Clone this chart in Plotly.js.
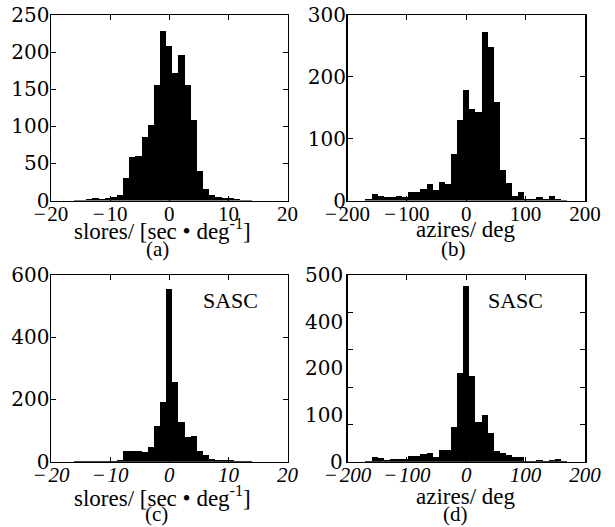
<!DOCTYPE html>
<html><head><meta charset="utf-8">
<script src="https://cdn.plot.ly/plotly-3.0.1.min.js"></script>
<style>body{margin:0;background:#fff}#chart{width:615px;height:527px}</style>
</head><body><div id="chart"></div>
<script>
// slowness residual histogram bin centres (sec/deg)
const sloCenters = [-15.60,-14.56,-13.52,-12.48,-11.44,-10.40,-9.36,-8.32,-7.28,-6.24,-5.20,-4.16,-3.12,-2.08,-1.04,0,1.04,2.08,3.12,4.16,5.20,6.24,7.28,8.32,9.36,10.40,11.44,12.48,13.52];
const sloWidth = 1.04;
const sloCountsA = [1,1,2,3,2,3,5,8,31,58,60,86,102,155,228,208,172,196,156,108,40,15,7,5,3,4,2,1,1];
const sloCountsC = [2,3,2,1,1,2,3,5,35,34,33,31,46,115,193,555,255,128,80,82,35,20,8,6,4,6,3,1,1];
// azimuth residual histogram bin centres (deg)
const aziCenters = [-174.86,-164.57,-154.29,-144.00,-133.71,-123.43,-113.14,-102.86,-92.57,-82.29,-72.00,-61.71,-51.43,-41.14,-30.86,-20.57,-10.29,0,10.29,20.57,30.86,41.14,51.43,61.71,72.00,82.29,92.57,102.86,113.14,123.43,133.71,144.00,154.29,164.57,174.86];
const aziWidth = 10.286;
const aziCountsB = [0,2,10,8,6,5,7,6,13,14,18,27,17,30,26,75,130,178,148,143,273,248,160,50,29,8,14,3,3,5,3,8,2,1,0];
const aziCountsD = [0,1,12,10,4,6,8,8,15,15,20,22,13,31,31,94,238,470,229,107,125,76,30,22,18,13,12,3,3,4,3,5,8,1,0];

const xTicksSlo = [-20,-10,0,10,20];
const xTickTextSlo = ['\u2212\u200A20','\u2212\u200A10','0','10','20'];
const xTicksAzi = [-200,-100,0,100,200];
const xTickTextAzi = ['\u2212\u200A200','\u2212\u200A100','0','100','200'];
const yTicksA = [0,50,100,150,200,250];
const yTicksB = [0,100,200,300];
const yTicksC = [0,200,400,600];
const yTicksD = [0,100,200,300,400,500];
// panel (d) printed labels (as they appear on the original figure)
const yLabelPosD = [0,125,250,375,500];
const yLabelTextD = ['0','100','200','400','500'];

const sloTitle = 'slores/ [sec • deg<sup>-1</sup>]';
const aziTitle = 'azires/ deg';
const panelTags = ['(a)','(b)','(c)','(d)'];
const stationTag = 'SASC';

const FONT = 'Liberation Serif, Times New Roman, serif';
const YFONT = 'DejaVu Serif, Liberation Serif, serif';
const fsx = 21, fsy = 20, fst = 23;

function bar(x, y, xa, ya, w){
  return {type:'bar', x:x, y:y, width:w, xaxis:xa, yaxis:ya,
    marker:{color:'#000', line:{width:0}}, hoverinfo:'x+y', showlegend:false};
}
const data = [
  bar(sloCenters, sloCountsA, 'x', 'y', sloWidth),
  bar(aziCenters, aziCountsB, 'x2', 'y2', aziWidth),
  bar(sloCenters, sloCountsC, 'x3', 'y3', sloWidth),
  bar(aziCenters, aziCountsD, 'x4', 'y4', aziWidth)
];

const L = [51/615, 287.5/615], R = [347.5/615, 585/615];
const T = [1-200.5/527, 1-15/527], B = [1-461.7/527, 1-275/527];

function xax(dom, anchor, range, tv, tt, italic){
  return {domain:dom, anchor:anchor, range:range, tickvals:tv, ticktext:tt, ticks:'inside', ticklen:5,
    mirror:'ticks', showline:true, linecolor:'#000', linewidth:1.5, tickcolor:'#000',
    showgrid:false, zeroline:false, automargin:false, ticklabelstandoff:-6,
    tickfont:{family:FONT, size:fsx, color:'#000', style: italic?'italic':'normal'}};
}
function yax(dom, anchor, range, tv){
  return {domain:dom, anchor:anchor, range:range, tickvals:tv, ticks:'inside', ticklen:5,
    mirror:'ticks', showline:true, linecolor:'#000', linewidth:1.5, tickcolor:'#000',
    showgrid:false, zeroline:false, automargin:false, ticklabelstandoff:-4,
    tickfont:{family:YFONT, size:fsy, color:'#000'}};
}

const yD = yax(B, 'x4', [0,500], yTicksD); yD.showticklabels = false;

function txt(t, x, y, size){
  return {text:t, x:x, y:y, xref:'paper', yref:'paper', xanchor:'center', yanchor:'middle', showarrow:false,
    font:{family:FONT, size:size, color:'#000'}};
}
const ann = [
  txt(sloTitle, 163/615, 1-229/527, fst),
  txt(aziTitle, 465/615, 1-229/527, fst),
  txt(sloTitle, 162/615, 1-496/527, fst),
  txt(aziTitle, 465/615, 1-496/527, fst),
  txt(panelTags[0], 157/615, 1-249/527, 21),
  txt(panelTags[1], 454/615, 1-249/527, 21),
  txt(panelTags[2], 156/615, 1-514/527, 21),
  txt(panelTags[3], 455/615, 1-514/527, 21),
  txt(stationTag, 230/615, 1-300/527, 22),
  txt(stationTag, 515/615, 1-300/527, 22)
];
yLabelPosD.forEach((v,i)=>{
  ann.push({text:yLabelTextD[i], x:0, y:v, xref:'x4 domain', yref:'y4', xanchor:'right', yanchor:'middle',
    xshift:-3, showarrow:false, font:{family:YFONT, size:fsy, color:'#000'}});
});

const layout = {
  width:615, height:527, margin:{l:0,r:0,t:0,b:0}, paper_bgcolor:'#fff', plot_bgcolor:'#fff',
  bargap:0, showlegend:false, font:{family:FONT, color:'#000'},
  xaxis: xax(L,'y',[-20,20],xTicksSlo,xTickTextSlo,false),
  yaxis: yax(T,'x',[0,250],yTicksA),
  xaxis2: xax(R,'y2',[-200,200],xTicksAzi,xTickTextAzi,false),
  yaxis2: yax(T,'x2',[0,300],yTicksB),
  xaxis3: xax(L,'y3',[-20,20],xTicksSlo,xTickTextSlo,true),
  yaxis3: yax(B,'x3',[0,600],yTicksC),
  xaxis4: xax(R,'y4',[-200,200],xTicksAzi,xTickTextAzi,true),
  yaxis4: yD,
  annotations: ann
};
Plotly.newPlot('chart', data, layout, {staticPlot:true});
</script></body></html>
